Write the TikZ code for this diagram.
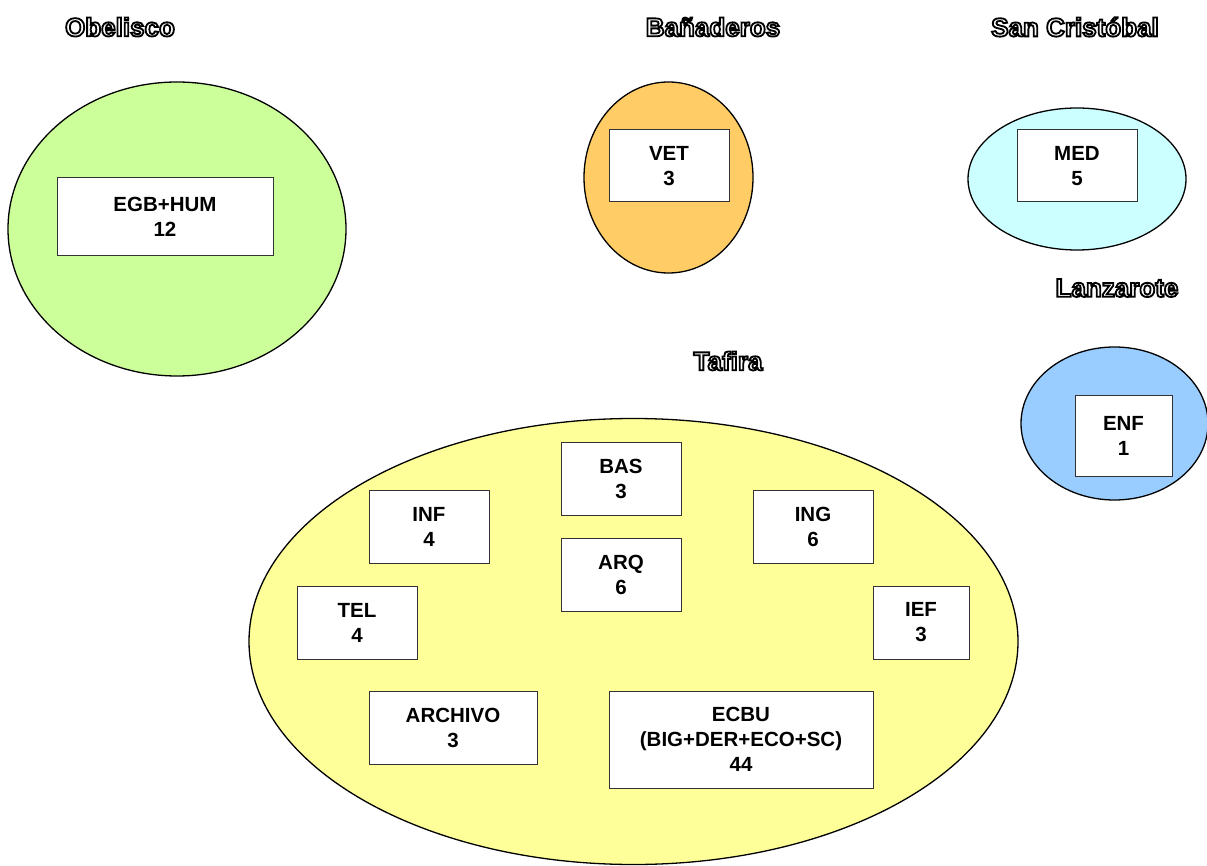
\documentclass[tikz,border=0pt]{standalone}
\usepackage{fontspec}
\setmainfont{Liberation Sans}
\newfontfamily\sitefont[FakeBold=7]{Liberation Sans Bold}
\usetikzlibrary{shapes.geometric}

\definecolor{obeliscogreen}{HTML}{CCFF99}
\definecolor{banaderosorange}{HTML}{FFCC66}
\definecolor{cristobalcyan}{HTML}{CCFFFF}
\definecolor{lanzaroteblue}{HTML}{99CCFF}
\definecolor{tafirayellow}{HTML}{FFFF99}

% white letters with a black rim (fill white, stroke black)
\newcommand\outlined[1]{\special{pdf:bcolor [1] [0]}#1\special{pdf:ecolor}}

\tikzset{
  campus/.style={ellipse, draw=black, line width=1.3pt, inner sep=0pt},
  centre/.style={draw=black!80, fill=white, line width=1pt, align=center,
    inner sep=0pt, font=\fontsize{20.5}{25}\selectfont\bfseries},
  site/.style={inner sep=0pt, font=\fontsize{26}{30}\selectfont\sitefont}
}

\begin{document}
\begin{tikzpicture}[x=1pt, y=-1pt]
        \useasboundingbox (0,0) rectangle (1207,866);
        % campuses
        \node[campus, fill=obeliscogreen, minimum width=338pt, minimum height=294pt] (obelisco) at (177,229) {};
        \node[campus, fill=banaderosorange, minimum width=169pt, minimum height=191pt] (banaderos) at (668.5,177.5) {};
        \node[campus, fill=cristobalcyan, minimum width=218pt, minimum height=142pt] (cristobal) at (1077,179) {};
        \node[campus, fill=lanzaroteblue, minimum width=187pt, minimum height=153pt] (lanzarote) at (1114.5,423.5) {};
        \node[campus, fill=tafirayellow, minimum width=769pt, minimum height=446pt] (tafira) at (633.5,641.5) {};
        % names
        \node[site] (obelisconame) at (120,27) {\outlined{Obelisco}};
        \node[site] (banaderosname) at (713,27) {\outlined{Bañaderos}};
        \node[site] (cristobalname) at (1075,27) {\outlined{San Cristóbal}};
        \node[site] (lanzarotename) at (1117,288) {\outlined{Lanzarote}};
        \node[site] (tafiraname) at (728,361) {\outlined{Tafira}};
        % centres
        \node[centre, minimum width=216pt, minimum height=78pt] (egbhum) at (165,217) {EGB+HUM\\12};
        \node[centre, minimum width=120pt, minimum height=72pt] (vet) at (669,166) {VET\\3};
        \node[centre, minimum width=120pt, minimum height=72pt] (med) at (1077,166) {MED\\5};
        \node[centre, minimum width=97pt, minimum height=81pt] (enf) at (1123.5,435.5) {ENF\\1};
        \node[centre, minimum width=120pt, minimum height=73pt] (bas) at (621,478.5) {BAS\\3};
        \node[centre, minimum width=120pt, minimum height=73pt] (inf) at (429,526.5) {INF\\4};
        \node[centre, minimum width=120pt, minimum height=73pt] (arq) at (621,574.5) {ARQ\\6};
        \node[centre, minimum width=120pt, minimum height=73pt] (ing) at (813,526.5) {ING\\6};
        \node[centre, minimum width=120pt, minimum height=73pt] (tel) at (357,622.5) {TEL\\4};
        \node[centre, minimum width=96pt, minimum height=73pt] (ief) at (921,622.5) {IEF\\3};
        \node[centre, minimum width=168pt, minimum height=73pt] (archivo) at (453,727.5) {ARCHIVO\\3};
        \node[centre, minimum width=264pt, minimum height=97pt] (ecbu) at (741,739.5) {ECBU\\(BIG+DER+ECO+SC)\\44};
    \end{tikzpicture}
\end{document}
